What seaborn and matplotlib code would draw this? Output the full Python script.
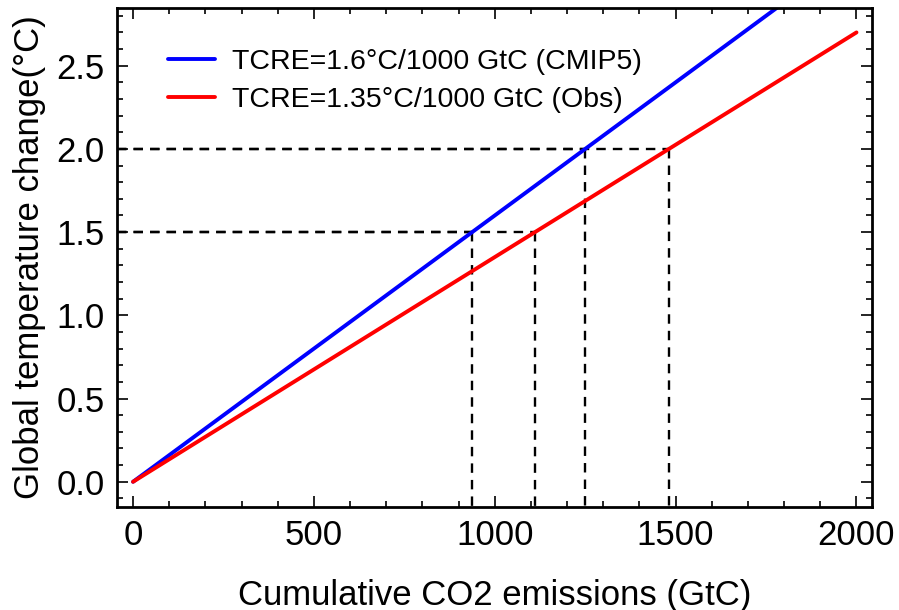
import numpy as np
import pandas as pd
import matplotlib
matplotlib.use("Agg")
import matplotlib.pyplot as plt
import seaborn as sns
from matplotlib.ticker import MultipleLocator

# Transient climate response to cumulative emissions (°C per 1000 GtC)
series_names = ["TCRE=1.6°C/1000 GtC (CMIP5)", "TCRE=1.35°C/1000 GtC (Obs)"]
tcre_values = [1.6, 1.35]
series_colors = ["#0000ff", "#ff0000"]

# Cumulative emissions range (GtC)
emissions = [0, 2000]

# Warming targets (°C) marked with dashed guides
targets = [1.5, 2.0]

sns.set_theme(style="white")
plt.rcParams["font.family"] = ["Liberation Sans", "DejaVu Sans"]
plt.rcParams["text.color"] = "black"
plt.rcParams["axes.labelcolor"] = "black"

rows = []
for name, tcre in zip(series_names, tcre_values):
    for e in emissions:
        rows.append({"emissions": e, "warming": tcre * e / 1000.0, "series": name})
df = pd.DataFrame(rows)

fig = plt.figure(figsize=(8.99, 6.10), dpi=100)
ax = fig.add_axes([0.1307, 0.1693, 0.9696 - 0.1307, 0.9864 - 0.1693])

xlim = (-43, 2042)
ylim = (-0.15, 2.845)

sns.lineplot(data=df, x="emissions", y="warming", hue="series",
             palette=dict(zip(series_names, series_colors)),
             hue_order=series_names, linewidth=2.8, ax=ax)

# Dashed guides: horizontal from the left edge to each line, vertical down to the bottom edge
for target in targets:
    for tcre in tcre_values:
        x_hit = target / tcre * 1000.0
        ax.plot([xlim[0], x_hit], [target, target], color="black",
                linestyle=(0, (4, 3)), linewidth=1.7, zorder=1)
        ax.plot([x_hit, x_hit], [target, ylim[0]], color="black",
                linestyle=(0, (4, 3)), linewidth=1.7, zorder=1)

ax.set_xlim(*xlim)
ax.set_ylim(*ylim)

ax.xaxis.set_major_locator(MultipleLocator(500))
ax.xaxis.set_minor_locator(MultipleLocator(100))
ax.yaxis.set_major_locator(MultipleLocator(0.5))
ax.yaxis.set_minor_locator(MultipleLocator(0.1))
ax.yaxis.set_major_formatter(matplotlib.ticker.FormatStrFormatter("%.1f"))

ax.tick_params(which="both", direction="in", top=True, right=True,
               bottom=True, left=True, color="black", width=1.2)
ax.tick_params(which="major", length=8, labelsize=25, pad=9, labelcolor="black")
ax.tick_params(which="minor", length=4.5)

for spine in ax.spines.values():
    spine.set_color("black")
    spine.set_linewidth(2)

ax.set_xlabel("Cumulative CO2 emissions (GtC)", fontsize=25, labelpad=19, color="black")
ax.set_ylabel("Global temperature change(°C)", fontsize=25, labelpad=8, color="black")

leg = ax.legend(loc="upper left", frameon=False, fontsize=20.5,
                handlelength=1.65, handletextpad=0.6, labelspacing=0.41,
                bbox_to_anchor=(0.033, 0.97))
for line in leg.get_lines():
    line.set_linewidth(2.8)
for text in leg.get_texts():
    text.set_color("black")

fig.savefig("out.png", dpi=100)
